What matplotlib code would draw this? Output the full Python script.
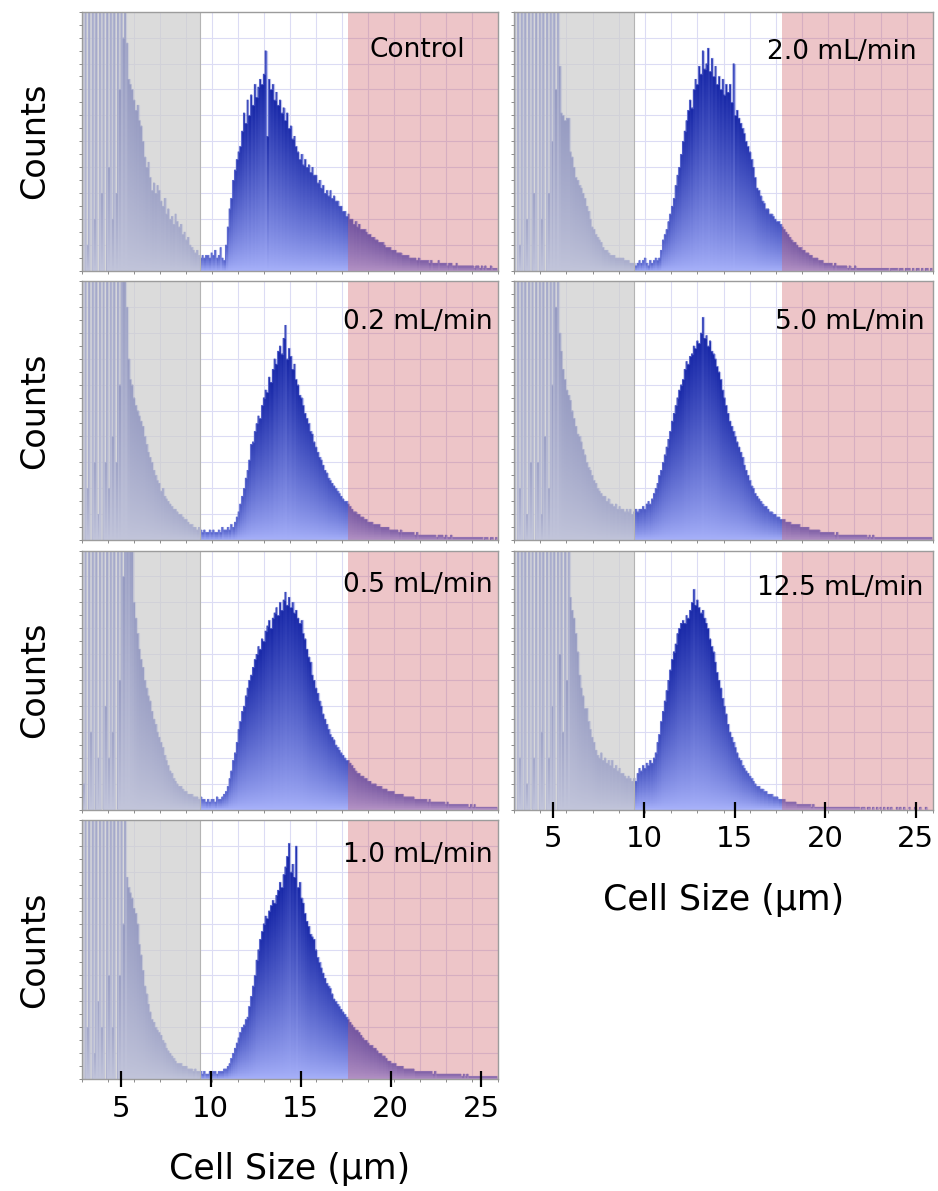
import numpy as np
import matplotlib
matplotlib.use("Agg")
from matplotlib import pyplot as plt
from matplotlib.path import Path

plt.rcParams['font.family'] = ['DejaVu Sans']

# size bins are 0.1 um wide starting at 2.8 um, every row of ten below = 1 um
bin_start = 2.8
bin_width = 0.1

# counts in percent of the plot height (values above 100 run off the top)
counts_control = [
    150, 0, 140, 10, 150, 0, 150, 20, 140, 0,
    150, 30, 150, 0, 140, 40, 150, 20, 150, 30,
    150, 70, 150, 90, 130, 88, 74, 72, 70, 66,
    62, 64, 58, 56, 50, 44, 40, 42, 36, 31,
    34, 30, 33, 31, 27, 25, 28, 22, 24, 20,
    21, 18, 22, 19, 17, 18, 14, 15, 12, 13,
    10, 9, 8, 7, 8, 6, 5, 6, 5, 6,
    6, 5, 7, 6, 8, 5, 6, 9, 5, 4,
    10, 17, 24, 28, 35, 39, 43, 46, 48, 54,
    61, 57, 66, 60, 68, 64, 72, 67, 71, 74,
    72, 76, 85, 52, 74, 70, 72, 66, 69, 64,
    66, 61, 63, 58, 61, 55, 56, 51, 52, 48,
    46, 43, 45, 41, 43, 40, 41, 38, 40, 37,
    37, 34, 35, 32, 33, 30, 31, 29, 31, 28,
    29, 27, 27, 25, 25, 23, 23, 21, 22, 20,
    20, 18, 19, 17, 18, 16, 16, 16, 15, 14,
    14, 13, 13, 12, 12, 11, 11, 11, 10, 9,
    9, 9, 8, 8, 8, 7, 7, 7, 6, 6,
    6, 6, 5, 5, 5, 5, 4, 5, 4, 4,
    4, 4, 4, 3, 4, 3, 3, 3, 4, 3,
    3, 3, 3, 2, 3, 3, 2, 2, 3, 2,
    2, 2, 2, 2, 2, 2, 2, 2, 1, 2,
    2, 1, 2, 1, 2, 1, 1, 2, 1, 1,
    1,
]

counts_02 = [
    150, 0, 150, 20, 140, 0, 150, 30, 150, 10,
    150, 0, 140, 30, 150, 20, 150, 40, 150, 30,
    150, 60, 150, 110, 140, 90, 70, 62, 60, 55,
    52, 50, 48, 46, 44, 40, 37, 34, 32, 30,
    27, 25, 23, 22, 19, 20, 17, 16, 15, 14,
    13, 12, 12, 11, 10, 10, 9, 8, 8, 7,
    6, 6, 5, 5, 4, 5, 4, 3, 4, 3,
    3, 4, 3, 4, 3, 3, 4, 3, 5, 4,
    4, 5, 4, 6, 5, 7, 9, 11, 14, 17,
    20, 24, 27, 31, 37, 38, 42, 45, 48, 47,
    52, 55, 58, 57, 63, 61, 66, 70, 68, 73,
    75, 72, 78, 83, 70, 74, 71, 66, 68, 62,
    60, 56, 55, 52, 49, 47, 45, 42, 41, 38,
    36, 34, 32, 31, 29, 27, 26, 24, 23, 22,
    21, 20, 19, 18, 17, 16, 15, 15, 14, 13,
    12, 11, 11, 10, 10, 9, 9, 8, 8, 7,
    7, 7, 6, 6, 6, 6, 5, 5, 5, 5,
    5, 4, 4, 4, 4, 4, 3, 4, 3, 3,
    3, 3, 3, 3, 3, 2, 3, 2, 2, 2,
    2, 2, 2, 2, 2, 2, 2, 1, 2, 2,
    2, 1, 2, 1, 1, 2, 1, 1, 1, 1,
    1, 1, 1, 1, 1, 1, 1, 1, 1, 1,
    1, 1, 1, 0, 1, 1, 0, 1, 1, 0,
    1,
]

counts_05 = [
    150, 10, 150, 0, 150, 30, 140, 0, 150, 20,
    150, 0, 150, 40, 150, 20, 140, 30, 150, 0,
    150, 50, 150, 90, 150, 120, 150, 110, 100, 80,
    74, 68, 62, 58, 55, 50, 47, 44, 42, 38,
    35, 33, 30, 28, 26, 24, 21, 19, 17, 15,
    14, 12, 11, 10, 9, 9, 8, 7, 7, 6,
    6, 6, 5, 5, 5, 4, 5, 4, 4, 3,
    4, 3, 4, 4, 3, 5, 4, 4, 5, 6,
    7, 9, 12, 15, 19, 22, 26, 31, 34, 38,
    40, 44, 47, 50, 52, 55, 58, 60, 63, 62,
    66, 65, 69, 71, 73, 70, 74, 76, 78, 75,
    80, 77, 81, 84, 79, 82, 78, 80, 76, 77,
    74, 72, 73, 68, 66, 62, 59, 57, 52, 50,
    47, 45, 42, 40, 37, 35, 33, 31, 29, 28,
    27, 25, 24, 23, 22, 21, 20, 19, 19, 18,
    17, 16, 15, 14, 14, 13, 13, 12, 12, 11,
    11, 10, 10, 10, 9, 9, 9, 8, 8, 8,
    7, 7, 7, 7, 6, 6, 6, 6, 6, 5,
    5, 5, 5, 5, 5, 4, 4, 4, 4, 4,
    4, 4, 3, 4, 3, 3, 3, 3, 3, 3,
    3, 3, 2, 3, 2, 2, 2, 2, 2, 2,
    2, 2, 2, 2, 2, 1, 2, 1, 2, 1,
    1, 1, 1, 1, 1, 1, 1, 1, 1, 1,
    1,
]

counts_10 = [
    150, 0, 150, 20, 150, 0, 140, 10, 150, 30,
    150, 20, 150, 0, 150, 40, 140, 20, 150, 0,
    150, 40, 150, 60, 150, 78, 74, 72, 70, 66,
    64, 60, 52, 48, 42, 36, 33, 29, 26, 23,
    22, 20, 19, 18, 17, 15, 14, 12, 11, 10,
    9, 8, 7, 6, 6, 6, 5, 5, 5, 4,
    4, 4, 3, 4, 3, 3, 3, 2, 3, 2,
    2, 3, 2, 3, 3, 2, 3, 3, 3, 4,
    4, 5, 6, 8, 10, 12, 14, 16, 18, 20,
    21, 23, 24, 28, 32, 36, 40, 46, 50, 54,
    57, 60, 63, 62, 65, 67, 69, 68, 71, 73,
    76, 74, 79, 82, 86, 91, 80, 83, 78, 90,
    74, 76, 70, 68, 64, 61, 59, 56, 55, 54,
    50, 47, 45, 43, 41, 39, 37, 36, 35, 33,
    31, 30, 29, 28, 27, 26, 25, 24, 23, 22,
    21, 20, 19, 19, 18, 17, 16, 15, 15, 14,
    13, 13, 12, 12, 11, 10, 10, 9, 9, 8,
    7, 7, 6, 6, 6, 5, 5, 5, 5, 4,
    4, 4, 4, 4, 4, 3, 3, 3, 3, 3,
    3, 3, 3, 3, 3, 2, 3, 2, 2, 2,
    2, 2, 2, 2, 2, 2, 2, 2, 2, 2,
    2, 1, 2, 1, 2, 1, 1, 1, 1, 1,
    1, 1, 1, 1, 1, 1, 1, 1, 1, 1,
    1,
]

counts_20 = [
    150, 0, 150, 10, 150, 0, 150, 20, 150, 0,
    150, 30, 140, 0, 150, 20, 150, 0, 150, 30,
    150, 50, 150, 70, 150, 79, 61, 60, 58, 59,
    59, 46, 44, 40, 36, 35, 33, 32, 30, 28,
    25, 23, 20, 17, 16, 14, 13, 12, 11, 9,
    8, 8, 7, 6, 6, 6, 5, 5, 5, 5,
    5, 4, 4, 4, 3, 3, 3, 2, 3, 4,
    3, 4, 5, 3, 2, 4, 3, 4, 5, 4,
    5, 8, 12, 14, 16, 19, 22, 25, 28, 33,
    37, 40, 45, 50, 54, 58, 62, 66, 63, 70,
    74, 72, 79, 76, 85, 78, 80, 86, 77, 82,
    75, 79, 72, 75, 70, 74, 68, 72, 69, 72,
    65, 80, 60, 62, 59, 57, 55, 53, 50, 48,
    46, 43, 40, 36, 32, 31, 29, 27, 26, 24,
    24, 22, 22, 21, 20, 19, 19, 18, 17, 16,
    15, 14, 13, 12, 11, 11, 10, 9, 9, 8,
    8, 7, 7, 6, 6, 5, 5, 5, 4, 4,
    4, 3, 3, 3, 3, 3, 2, 3, 2, 2,
    2, 2, 2, 2, 1, 2, 1, 1, 2, 1,
    1, 1, 1, 1, 1, 1, 1, 1, 1, 1,
    1, 1, 1, 1, 1, 1, 1, 0, 1, 1,
    1, 1, 0, 1, 1, 0, 1, 1, 1, 0,
    1, 0, 1, 1, 0, 1, 0, 1, 1, 0,
    1,
]

counts_50 = [
    150, 0, 150, 20, 150, 0, 150, 10, 150, 30,
    150, 0, 150, 30, 150, 10, 150, 40, 150, 20,
    150, 60, 150, 90, 150, 80, 73, 66, 62, 58,
    56, 54, 50, 47, 44, 41, 40, 38, 35, 33,
    30, 28, 27, 25, 23, 22, 20, 19, 18, 17,
    17, 15, 16, 14, 14, 13, 14, 12, 13, 12,
    12, 11, 12, 11, 12, 10, 11, 12, 11, 12,
    12, 13, 12, 14, 15, 14, 16, 18, 20, 22,
    25, 27, 30, 33, 36, 39, 42, 46, 49, 52,
    55, 58, 60, 62, 66, 69, 68, 71, 72, 75,
    74, 77, 76, 80, 86, 78, 79, 75, 77, 73,
    72, 70, 67, 65, 62, 58, 55, 52, 49, 46,
    44, 42, 40, 38, 36, 34, 32, 29, 27, 25,
    23, 21, 20, 18, 17, 16, 15, 14, 13, 13,
    12, 11, 11, 10, 10, 9, 9, 8, 8, 8,
    7, 7, 7, 6, 6, 6, 6, 6, 5, 5,
    5, 5, 5, 4, 4, 4, 4, 4, 4, 3,
    3, 3, 3, 3, 3, 3, 3, 2, 3, 2,
    2, 2, 2, 2, 2, 2, 2, 2, 2, 2,
    2, 2, 2, 2, 2, 1, 2, 1, 2, 1,
    1, 1, 1, 1, 1, 1, 1, 1, 1, 1,
    1, 1, 1, 1, 1, 1, 1, 1, 1, 1,
    1, 1, 1, 1, 1, 1, 1, 1, 1, 1,
    1,
]

counts_125 = [
    150, 0, 150, 20, 150, 0, 150, 10, 150, 0,
    150, 20, 150, 0, 150, 30, 150, 0, 150, 20,
    150, 40, 150, 0, 150, 60, 150, 30, 150, 50,
    150, 82, 77, 74, 68, 61, 52, 47, 44, 39,
    39, 34, 31, 28, 26, 23, 21, 20, 22, 19,
    20, 18, 19, 17, 19, 16, 17, 15, 16, 14,
    14, 13, 12, 13, 12, 11, 12, 11, 14, 16,
    15, 17, 16, 18, 17, 19, 18, 20, 22, 26,
    29, 34, 38, 42, 46, 50, 54, 58, 61, 64,
    68, 70, 72, 73, 72, 75, 74, 77, 80, 85,
    79, 81, 78, 76, 77, 74, 72, 70, 66, 63,
    61, 57, 53, 50, 47, 43, 40, 37, 33, 30,
    28, 26, 24, 22, 20, 19, 17, 16, 15, 14,
    13, 12, 11, 10, 9, 9, 8, 8, 7, 7,
    6, 6, 6, 5, 5, 5, 4, 4, 4, 4,
    3, 3, 3, 3, 3, 3, 2, 2, 2, 2,
    2, 2, 2, 2, 1, 2, 1, 1, 1, 1,
    1, 1, 1, 1, 1, 1, 1, 1, 1, 1,
    1, 1, 1, 1, 1, 1, 1, 1, 1, 1,
    1, 0, 1, 1, 0, 1, 1, 0, 1, 0,
    1, 0, 1, 0, 1, 0, 1, 0, 1, 0,
    0, 1, 0, 1, 0, 1, 0, 0, 1, 0,
    0, 1, 0, 0, 1, 0, 0, 1, 0, 0,
    0,
]

labels = ['Control', '0.2 mL/min', '0.5 mL/min', '1.0 mL/min',
          '2.0 mL/min', '5.0 mL/min', '12.5 mL/min']
series = [counts_control, counts_02, counts_05, counts_10,
          counts_20, counts_50, counts_125]
size_ticks = [5, 10, 15, 20, 25]

# gates: debris below, aggregates / doublets above
debris_cut = 9.43
large_cut = 17.62

XMIN, XMAX = 2.83, 25.95
YMAX = 100

LIGHT = np.array([168, 178, 250]) / 255
DARK = np.array([24, 40, 168]) / 255
GRID = '#dcdcf4'


def draw_panel(ax, counts, label, lx, ly, bottom, ylabel):
    counts = np.asarray(counts, float)
    edges = bin_start + bin_width * np.arange(len(counts) + 1)

    # light grid under everything
    for gx in np.linspace(XMIN, XMAX, 17)[1:-1]:
        ax.axvline(gx, color=GRID, lw=0.8, zorder=1)
    for gy in np.linspace(0, YMAX, 11)[1:-1]:
        ax.axhline(gy, color=GRID, lw=0.8, zorder=1)

    bars = ax.bar(edges[:-1], counts, width=bin_width, align='edge',
                  color=LIGHT, linewidth=0, zorder=2)

    # each bar shaded light at the base to dark at its top
    ys = (np.arange(400) + 0.5) / 400 * YMAX
    frac = np.clip(ys[:, None] / np.maximum(counts, 1e-6)[None, :], 0, 1) ** 0.8
    depth = 0.55 + 0.45 * np.clip(counts / 60, 0, 1)
    t = (frac * depth[None, :])[..., None]
    rgb = LIGHT * (1 - t) + DARK * t
    im = ax.imshow(rgb, extent=(edges[0], edges[-1], 0, YMAX), origin='lower',
                   aspect='auto', interpolation='nearest', zorder=2.1)
    clip = Path.make_compound_path(
        *[b.get_path().transformed(b.get_patch_transform()) for b in bars])
    im.set_clip_path(clip, ax.transData)
    ax.stairs(counts, edges, color='#6f7ad8', alpha=0.45, lw=0.9, zorder=2.2)

    # gated regions
    ax.axvspan(XMIN, debris_cut, color='#cdcdcd', alpha=0.7, lw=0, zorder=3)
    ax.axvline(debris_cut, color='#b4b4b4', lw=0.8, zorder=3.1)
    ax.axvspan(large_cut, XMAX, color='#cc5962', alpha=0.35, lw=0, zorder=3)

    ax.set_xlim(XMIN, XMAX)
    ax.set_ylim(0, YMAX)

    ax.set_xticks(size_ticks)
    ax.set_xticks(np.linspace(XMIN, XMAX, 17), minor=True)
    ax.set_yticks(np.linspace(0, YMAX, 21))
    ax.xaxis.set_zorder(4.5)
    ax.yaxis.set_zorder(4.5)

    ax.tick_params(which='minor', length=2.5, width=0.7, color='#8c8c8c',
                   direction='out')
    ax.tick_params(axis='y', which='major', length=2.5, width=0.7,
                   color='#8c8c8c', direction='out', labelleft=False)
    if bottom:
        ax.tick_params(axis='x', which='major', direction='inout', length=11,
                       width=1.6, color='black', labelsize=21, pad=6)
        ax.set_xlabel('Cell Size (µm)', fontsize=25, labelpad=21)
    else:
        ax.tick_params(axis='x', which='major', length=0, labelbottom=False)

    for s in ax.spines.values():
        s.set_color('#9c9c9c')
        s.set_linewidth(1.0)
        s.set_zorder(4)

    if ylabel:
        ax.set_ylabel('Counts', fontsize=24)
        ax.yaxis.set_label_coords(-0.073, 0.5)

    ax.text(lx, ly, label, transform=ax.transAxes, ha='right', va='center',
            fontsize=19, zorder=5)


fig = plt.figure(figsize=(9.38, 11.91), dpi=100)

W, H = 938, 1191
panel_h = 259
row_tops = [11.7, 281, 550.5, 820]
col_left = [81.5, 514]
col_w = [416.5, 419]

# (column, row, label x, label y) for each series
layout = [
    (0, 0, 0.921, 0.852),
    (0, 1, 0.986, 0.842),
    (0, 2, 0.986, 0.867),
    (0, 3, 0.986, 0.865),
    (1, 0, 0.962, 0.845),
    (1, 1, 0.981, 0.842),
    (1, 2, 0.976, 0.856),
]
bottom_panels = {(0, 3), (1, 2)}

for counts, label, (c, r, lx, ly) in zip(series, labels, layout):
    rect = [col_left[c] / W, 1 - (row_tops[r] + panel_h) / H,
            col_w[c] / W, panel_h / H]
    ax = fig.add_axes(rect)
    draw_panel(ax, counts, label, lx, ly, (c, r) in bottom_panels, c == 0)

fig.savefig('out.png', dpi=100)
